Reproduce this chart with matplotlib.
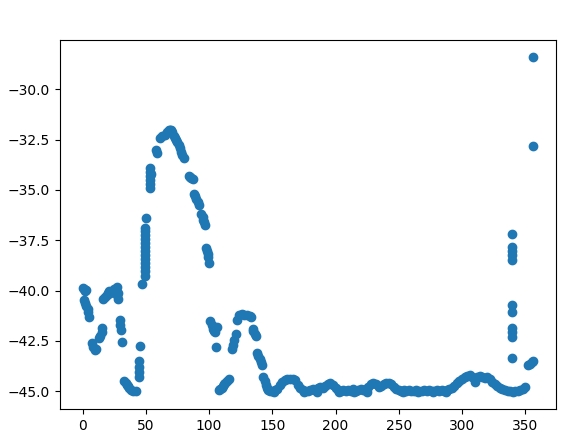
from matplotlib import pyplot as plt

# readings, grouped by stretch of the x range

# 0 - 47: scattered clusters
left_x = [0, 1, 2, 2.5, 1, 2, 3, 4, 4.5, 5,
          7.5, 8.5, 9.5, 10.5, 13, 14, 15, 15.5,
          16.5, 18, 19, 20, 21, 22, 23, 24, 25, 26, 27, 27.5, 28, 28,
          30, 30, 30.5, 31,
          33, 34, 35, 36, 37, 38.5, 40, 42,
          44.5, 44.5, 44.5, 45, 45.5, 47]
left_y = [-39.85, -39.9, -40.0, -39.95, -40.45, -40.6, -40.75, -40.9, -41.05, -41.3,
          -42.6, -42.8, -42.95, -42.9, -42.35, -42.25, -41.85, -42.05,
          -40.4, -40.3, -40.2, -40.1, -40.0, -40.1, -40.0, -40.05, -39.9, -39.95, -39.8, -40.2, -40.4, -40.1,
          -41.45, -41.7, -41.95, -42.55,
          -44.5, -44.6, -44.7, -44.75, -44.85, -44.95, -45.0, -45.0,
          -43.5, -43.8, -44.05, -44.3, -42.75, -39.65]

# the vertical run near 50
spike_x = [49.5, 49.5, 49.5, 49.5, 49.5, 49.5, 49.5, 49.5, 49.5, 49.5,
           49.5, 49.5, 49.5, 50.4]
spike_y = [-39.25, -39.05, -38.85, -38.65, -38.45, -38.25, -38.05, -37.85, -37.65, -37.45,
           -37.25, -37.05, -36.87, -36.37]

# the big hump 53 - 100
hump_x = [53.5, 53.5, 53.5, 53.5, 53.5, 53.5, 54, 58, 59,
          61, 63, 65, 67, 68, 69, 70, 71, 72, 73, 74, 75, 76, 77, 78, 79, 80,
          84, 85, 86, 87, 88.5, 89, 90, 91, 92,
          94, 95, 95.5, 96, 97, 98, 98.5, 99, 99.5, 100]
hump_y = [-33.9, -34.1, -34.3, -34.5, -34.7, -34.9, -34.2, -33.0, -33.15,
          -32.4, -32.3, -32.25, -32.1, -32.0, -32.0, -32.0, -32.1, -32.3, -32.4, -32.5, -32.6, -32.75, -32.9, -33.1, -33.25, -33.4,
          -34.3, -34.35, -34.4, -34.45, -35.2, -35.3, -35.45, -35.6, -35.75,
          -36.2, -36.35, -36.5, -36.6, -36.75, -37.9, -38.05, -38.2, -38.35, -38.65]

# 101 - 147
mid_x = [101, 102, 103, 104, 105, 106, 105.5,
         108, 109, 110, 111, 112, 113, 114, 115.5,
         118, 119, 120, 121.5,
         122, 124, 126, 128, 130, 132, 133,
         134.5, 135, 136, 137,
         138, 139, 140, 141, 142,
         143, 144, 145, 146, 147]
mid_y = [-41.5, -41.7, -41.9, -42.0, -42.05, -41.8, -42.8,
         -44.95, -44.9, -44.85, -44.75, -44.65, -44.6, -44.5, -44.4,
         -42.9, -42.7, -42.45, -42.15,
         -41.45, -41.2, -41.15, -41.2, -41.2, -41.25, -41.3,
         -41.9, -42.0, -42.15, -42.25,
         -43.1, -43.25, -43.4, -43.55, -43.7,
         -44.3, -44.5, -44.7, -44.85, -44.95]

# flat stretch 148 - 290
flat_x = [148, 150, 152, 154, 156, 158, 160, 162, 164, 166, 168, 170, 172, 174, 176, 178,
          180, 182, 184, 186, 188, 190, 192, 194, 196, 198, 200, 202, 204, 206, 208, 210,
          212, 214, 216, 218, 220, 222, 224, 226, 228, 230, 232, 234, 236, 238, 240, 242,
          244, 246, 248, 250, 252, 254, 256, 258, 260, 262, 264, 266, 268, 270, 272, 274,
          276, 278, 280, 282, 284, 286, 288, 290,
          151, 175, 185, 203, 215, 225, 253, 265, 277, 287]
flat_y = [-45.0, -45.0, -44.95, -44.9, -44.7, -44.55, -44.45, -44.4, -44.4, -44.4, -44.45, -44.7, -44.85, -44.95, -45.0, -45.0,
          -44.95, -44.9, -44.95, -44.85, -44.8, -44.85, -44.75, -44.65, -44.6, -44.7, -44.85, -44.95, -45.0, -44.95, -45.0, -44.95,
          -45.0, -44.9, -45.0, -44.95, -44.9, -44.95, -44.9, -44.8, -44.65, -44.6, -44.65, -44.8, -44.75, -44.65, -44.6, -44.6,
          -44.65, -44.8, -44.9, -44.95, -45.0, -44.95, -45.0, -44.95, -45.0, -45.0, -44.95, -45.0, -45.0, -44.95, -45.0, -44.95,
          -45.0, -45.0, -44.95, -45.0, -44.95, -45.0, -44.95, -44.9,
          -45.05, -45.05, -45.05, -45.05, -45.05, -45.05, -45.05, -45.05, -45.05, -45.05]

# 292 - 357 incl. the vertical run at 340 and the top outliers
right_x = [292, 294, 296, 298, 300, 302, 304, 306, 308, 310, 310, 312, 314, 316, 318, 320,
           322, 324, 326, 328, 330, 332, 334, 336, 338, 340, 342, 344, 346, 348, 350,
           339.5, 339.5, 339.5, 339.5, 339.5, 339.5, 339.5, 339.5, 339.5, 339.5, 339.5,
           352, 353.5, 355, 356.5,
           356.3, 356.3]
right_y = [-44.85, -44.75, -44.6, -44.5, -44.4, -44.3, -44.25, -44.2, -44.3, -44.4, -44.55, -44.3, -44.25, -44.3, -44.35, -44.3,
           -44.4, -44.55, -44.65, -44.75, -44.85, -44.9, -44.95, -45.0, -45.0, -45.05, -45.0, -45.0, -44.95, -44.9, -44.8,
           -37.2, -37.85, -38.05, -38.25, -38.5, -40.7, -41.05, -41.85, -42.05, -42.3, -43.35,
           -43.72, -43.65, -43.57, -43.48,
           -28.38, -32.81]


def plot_points():
    xs = left_x + spike_x + hump_x + mid_x + flat_x + right_x
    ys = left_y + spike_y + hump_y + mid_y + flat_y + right_y

    fig = plt.figure(figsize=(5.81, 4.48), dpi=100)
    ax = fig.add_axes([60 / 581, 39 / 448, 496 / 581, 369 / 448])
    ax.scatter(xs, ys)
    fig.savefig("out.png", dpi=100)


if __name__ == "__main__":
    plot_points()
